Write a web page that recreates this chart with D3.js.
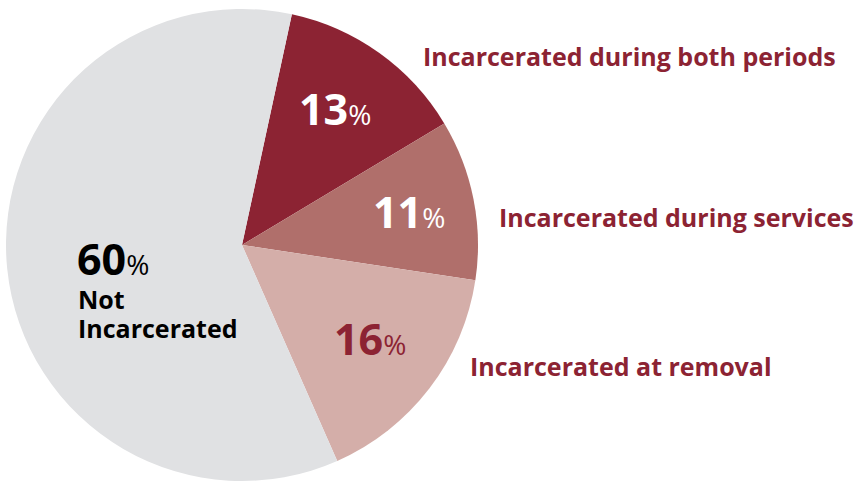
<!DOCTYPE html>
<html><head><meta charset="utf-8">
<script src="https://cdn.jsdelivr.net/npm/d3@7"></script>
<style>body{margin:0;background:#fff}svg{display:block}text{font-family:"Open Sans",sans-serif}</style>
</head><body>
<svg id="c" width="857" height="481"></svg>
<script>
const categories = ["Incarcerated during both periods","Incarcerated during services","Incarcerated at removal","Not Incarcerated"];
const values = [13, 11, 16, 60];
const colors = ["#8C2333","#B06F6B","#D4AEA9","#E0E1E3"];
const numColors = ["#fff","#fff","#8C2333","#000"];

const svg = d3.select("#c");
const cx = 242, cy = 245, r = 236;
const startAngle = 12.2 * Math.PI / 180;
const pie = d3.pie().sort(null).value(d => d).startAngle(startAngle).endAngle(startAngle + 2*Math.PI);
const arcs = pie(values);
const arc = d3.arc().innerRadius(0).outerRadius(r);
const g = svg.append("g").attr("transform", `translate(${cx},${cy})`);
g.selectAll("path").data(arcs).enter().append("path")
  .attr("d", arc).attr("fill", (d,i) => colors[i]);

// value labels
const numPos = [[299,125],[373,228],[334,355],[77,275]];
arcs.forEach((a,i) => {
  const t = svg.append("text").attr("x", numPos[i][0]).attr("y", numPos[i][1]).attr("fill", numColors[i]);
  t.append("tspan").attr("font-size", 43).attr("font-weight", 700).text(values[i]);
  t.append("tspan").attr("font-size", 28).attr("font-weight", 400).text("%");
});
// Not incarcerated label
svg.append("text").attr("x",78).attr("y",309).attr("font-size",25).attr("font-weight",700).attr("fill","#000").text("Not");
svg.append("text").attr("x",78).attr("y",338).attr("font-size",25).attr("font-weight",700).attr("fill","#000").text("Incarcerated");

// outer labels
const labPos = [[423,66],[499,227],[470,376]];
labPos.forEach((p,i) => {
  svg.append("text").attr("x",p[0]).attr("y",p[1]).attr("font-size",25).attr("font-weight",700)
    .attr("fill","#8C2333").text(categories[i]);
});
</script>
</body></html>
